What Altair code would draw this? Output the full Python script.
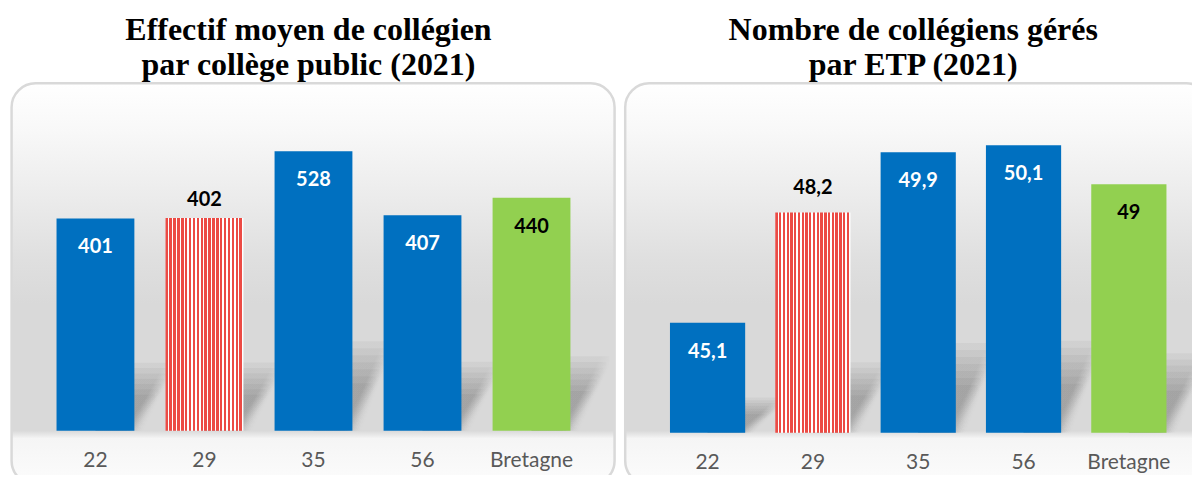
import altair as alt
import pandas as pd

# ---- data ----
categories = ["22", "29", "35", "56", "Bretagne"]
effectif_values = [401, 402, 528, 407, 440]
effectif_labels = ["401", "402", "528", "407", "440"]
etp_values = [45.1, 48.2, 49.9, 50.1, 49.0]
etp_labels = ["45,1", "48,2", "49,9", "50,1", "49"]

title_left = ["Effectif moyen de collégien", "par collège public (2021)"]
title_right = ["Nombre de collégiens gérés", "par ETP (2021)"]

BLUE = "#0070c0"
GREEN = "#92d050"
RED = "#ec4a44"


def stripe_gradient(n=20, red_frac=0.62):
    stops = []
    for k in range(n):
        a = k / n
        b = (k + red_frac) / n
        c = (k + 1) / n
        stops += [
            alt.GradientStop(color=RED, offset=a),
            alt.GradientStop(color=RED, offset=b),
            alt.GradientStop(color="#ffffff", offset=b),
            alt.GradientStop(color="#ffffff", offset=c),
        ]
    return alt.LinearGradient(gradient="linear", x1=0, x2=1, y1=0, y2=0, stops=stops)


def bg_gradient():
    stops = [
        (0.0, "#ffffff"), (0.12, "#f8f8f8"), (0.29, "#ebebeb"), (0.44, "#dfdfdf"),
        (0.55, "#d9d9d9"), (0.866, "#d9d9d9"), (0.885, "#f5f5f5"), (1.0, "#fcfcfc"),
    ]
    return alt.LinearGradient(
        gradient="linear", x1=0, x2=0, y1=0, y2=1,
        stops=[alt.GradientStop(color=c, offset=o) for o, c in stops],
    )


def shadow_gradient(alpha):
    stops = [
        (0.0, f"rgba(0,0,0,{alpha})"), (0.5, f"rgba(0,0,0,{alpha})"),
        (0.76, "rgba(0,0,0,0)"), (1.0, "rgba(0,0,0,0)"),
    ]
    return alt.LinearGradient(
        gradient="linear", x1=0.3, y1=0.5, x2=0.9, y2=0.77,
        stops=[alt.GradientStop(color=c, offset=o) for o, c in stops],
    )


def panel(values, labels, domain, base, width, height, title_lines, px1, px2, out_dy):
    df = pd.DataFrame({"cat": categories, "value": values, "label": labels})
    x = alt.X(
        "cat:N", sort=categories,
        scale=alt.Scale(paddingInner=0.286, paddingOuter=0.143),
        axis=alt.Axis(title=None, labelAngle=0, ticks=False, domain=False, grid=False,
                      labelFont="Lato", labelFontSize=21, labelColor="#595959",
                      labelPadding=19, zindex=1),
    )
    yscale = alt.Scale(domain=domain, zero=False, nice=False)
    y = alt.Y("value:Q", scale=yscale, axis=None)

    bg = alt.Chart(pd.DataFrame({"k": [0]})).mark_rect(
        color=bg_gradient(), cornerRadius=24, stroke="#d9d9d9", strokeWidth=2.5
    ).encode(x=alt.value(px1), x2=alt.value(px2), y=alt.value(-30), y2=alt.value(372))

    base_chart = alt.Chart(df).encode(x=x)

    shadows = []
    for i in range(7):
        frac = 0.17 + 0.025 * i
        w = 60 + 3 * i
        shadows.append(
            base_chart.transform_calculate(
                stop=f"{base} + (datum.value - {base}) * {frac}"
            ).mark_bar(width=w, xOffset=w / 2, color=shadow_gradient(0.038)).encode(
                y=alt.Y("stop:Q", scale=yscale, axis=None), y2=alt.datum(base)
            )
        )
    bars = base_chart.transform_filter("datum.cat != '29'").mark_bar().encode(
        y=y, y2=alt.datum(base),
        color=alt.condition("datum.cat == 'Bretagne'", alt.value(GREEN), alt.value(BLUE)),
    )
    striped = base_chart.transform_filter("datum.cat == '29'").mark_bar(
        color=stripe_gradient()
    ).encode(y=y, y2=alt.datum(base))
    inside = base_chart.transform_filter("datum.cat != '29'").mark_text(
        font="Lato", fontSize=20, fontWeight="bold", baseline="middle", dy=29
    ).encode(
        y=y, text="label:N",
        color=alt.condition("datum.cat == 'Bretagne'", alt.value("#000000"), alt.value("#ffffff")),
    )
    outside = base_chart.transform_filter("datum.cat == '29'").mark_text(
        font="Lato", fontSize=20, fontWeight="bold", baseline="middle", dy=-out_dy,
        color="#000000",
    ).encode(y=y, text="label:N")

    return alt.layer(bg, *shadows, bars, striped, inside, outside).properties(
        width=width, height=height,
        title=alt.TitleParams(
            text=title_lines, font="Liberation Serif", fontSize=32, fontWeight="bold",
            color="#000000", anchor="middle", lineHeight=35, offset=0, dx=-5,
        ),
    )


left = panel(effectif_values, effectif_labels, [0, 600], 0, 546, 318, title_left,
             -29.4, 574.6, 18)
right = panel(etp_values, etp_labels, [42, 51], 42, 527.5, 320, title_right,
              -29.75, 556.5, 25)

chart = alt.hconcat(left, right, spacing=8).properties(
    padding={"left": 2, "top": 5, "right": -20, "bottom": -12},
    background="#ffffff",
).configure_view(stroke=None)

chart.save("out.html", embed_options={"renderer": "svg", "actions": False})
